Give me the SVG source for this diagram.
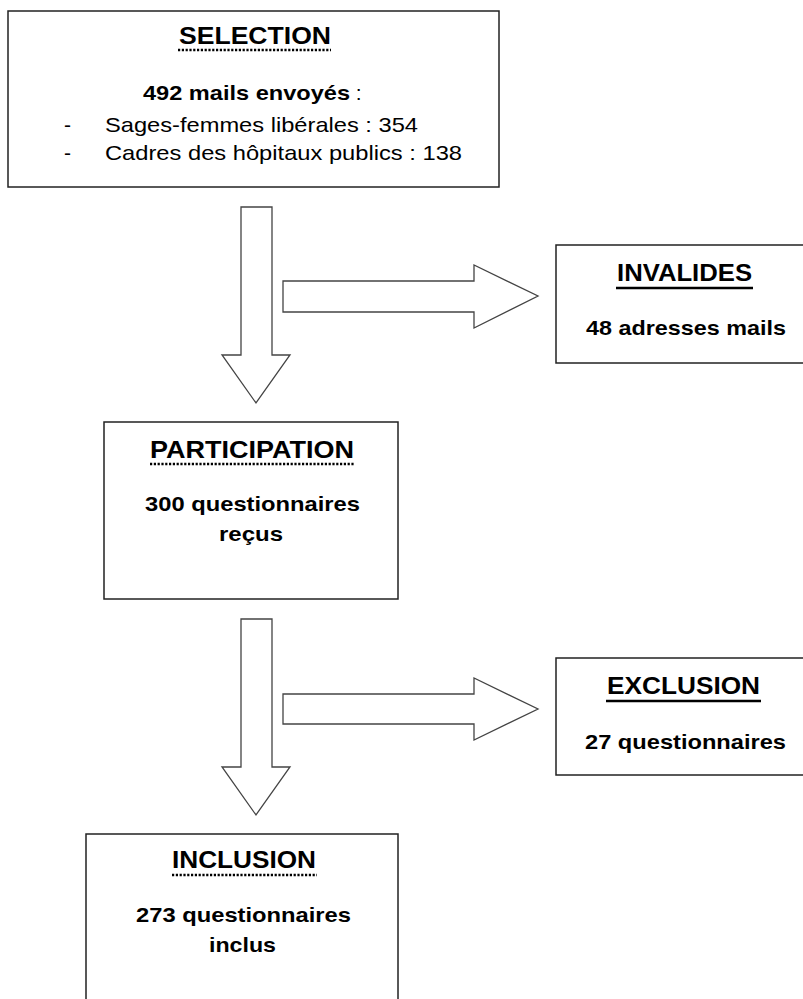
<svg xmlns="http://www.w3.org/2000/svg" width="803" height="999" viewBox="0 0 803 999">
<style>
.box{fill:#fff;stroke:#222;stroke-width:1.5}
.arr{fill:#fff;stroke:#444;stroke-width:1.3;stroke-linejoin:miter}
text{font-family:"Liberation Sans",Arial,sans-serif;fill:#000}
.t{font-size:24px;font-weight:bold;text-anchor:middle}
.b{font-size:21px;font-weight:bold;text-anchor:middle}
.r{font-size:21px}
.dot{stroke:#000;stroke-width:2.5;stroke-dasharray:2.2 1.6}
.sol{stroke:#000;stroke-width:2.5}
</style>
<rect width="803" height="999" fill="#fff"/>
<g id="connectors">
<polygon class="arr" points="241,207 272,207 272,355 290,355 256,403 222,355 241,355"/>
<polygon class="arr" points="283,281 474,281 474,265 538,296 474,328 474,312 283,312"/>
<polygon class="arr" points="241,619 272,619 272,767 290,767 256,815 222,767 241,767"/>
<polygon class="arr" points="283,694 474,694 474,678 538,709 474,740 474,724 283,724"/>
</g>
<g id="selection">
<rect class="box" x="8" y="11" width="491" height="176"/>
<text class="t" x="255" y="44" textLength="152" lengthAdjust="spacingAndGlyphs">SELECTION</text>
<line class="dot" x1="178" y1="50" x2="331" y2="50"/>
<text x="143" y="100" class="r"><tspan font-weight="bold" textLength="207" lengthAdjust="spacingAndGlyphs">492 mails envoyés</tspan><tspan> :</tspan></text>
<text class="r" x="64" y="132">-</text>
<text class="r" x="105" y="132" textLength="313" lengthAdjust="spacingAndGlyphs">Sages-femmes libérales : 354</text>
<text class="r" x="64" y="160">-</text>
<text class="r" x="105" y="160" textLength="357" lengthAdjust="spacingAndGlyphs">Cadres des hôpitaux publics : 138</text>
</g>
<g id="invalides">
<rect class="box" x="556" y="245" width="260" height="118"/>
<text class="t" x="684.5" y="281" textLength="135" lengthAdjust="spacingAndGlyphs">INVALIDES</text>
<line class="sol" x1="616" y1="288" x2="753" y2="288"/>
<text class="b" x="686" y="335" textLength="200" lengthAdjust="spacingAndGlyphs">48 adresses mails</text>
</g>
<g id="participation">
<rect class="box" x="104" y="422" width="294" height="177"/>
<text class="t" x="252" y="458" textLength="204" lengthAdjust="spacingAndGlyphs">PARTICIPATION</text>
<line class="dot" x1="150" y1="464" x2="355" y2="464"/>
<text class="b" x="252.5" y="511" textLength="215" lengthAdjust="spacingAndGlyphs">300 questionnaires</text>
<text class="b" x="251" y="541" textLength="64" lengthAdjust="spacingAndGlyphs">reçus</text>
</g>
<g id="exclusion">
<rect class="box" x="556" y="658" width="260" height="117"/>
<text class="t" x="683.5" y="694" textLength="153" lengthAdjust="spacingAndGlyphs">EXCLUSION</text>
<line class="sol" x1="606" y1="701" x2="761" y2="701"/>
<text class="b" x="685.5" y="749" textLength="201" lengthAdjust="spacingAndGlyphs">27 questionnaires</text>
</g>
<g id="inclusion">
<rect class="box" x="86" y="834" width="312" height="180"/>
<text class="t" x="244" y="868" textLength="144" lengthAdjust="spacingAndGlyphs">INCLUSION</text>
<line class="dot" x1="172" y1="875" x2="317" y2="875"/>
<text class="b" x="243.5" y="922" textLength="215" lengthAdjust="spacingAndGlyphs">273 questionnaires</text>
<text class="b" x="242.5" y="952" textLength="67" lengthAdjust="spacingAndGlyphs">inclus</text>
</g>
</svg>
